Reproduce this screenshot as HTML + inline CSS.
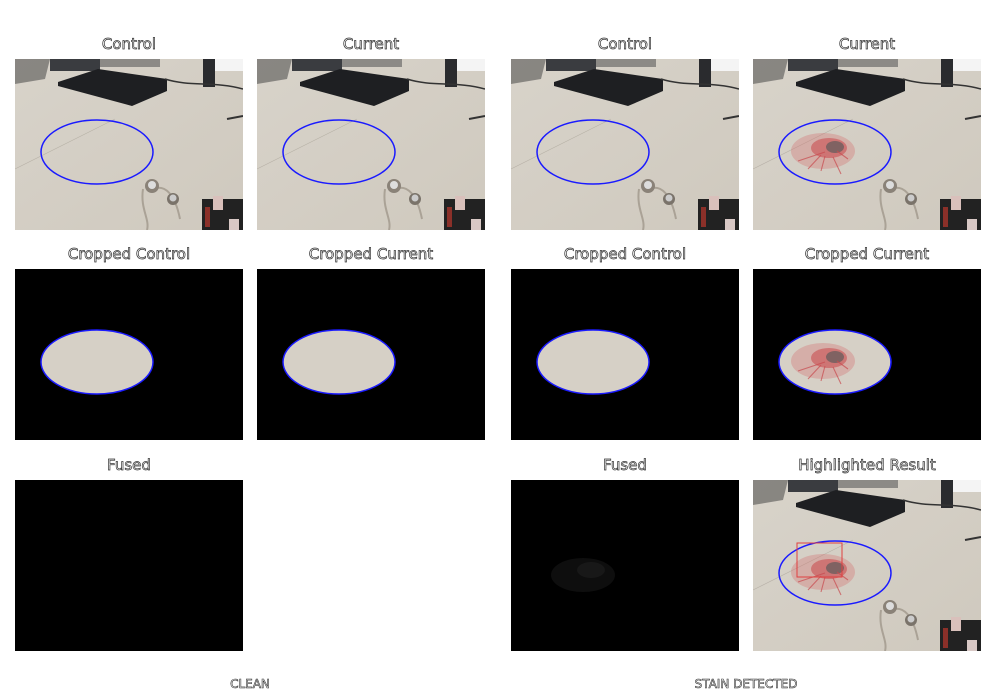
<!DOCTYPE html>
<html><head><meta charset="utf-8">
<style>
body{margin:0;width:996px;height:700px;background:#fff;position:relative;overflow:hidden;font-family:"DejaVu Sans","Liberation Sans",sans-serif}
.t{position:absolute;font-size:15px;color:#fff;text-align:center;width:260px;-webkit-text-stroke:0.7px #333;line-height:18px}
.p{position:absolute;width:228px;height:171px}
.b{position:absolute;font-size:12px;color:#fff;-webkit-text-stroke:0.6px #333;text-align:center;width:300px}
</style></head><body>
<svg width="0" height="0" style="position:absolute">
<defs>
<linearGradient id="desk" x1="0" y1="0" x2="1" y2="1"><stop offset="0" stop-color="#d8d3ca"/><stop offset="1" stop-color="#cfc9be"/></linearGradient>
<g id="scene">
<rect width="228" height="171" fill="url(#desk)"/>
<polygon points="0,0 35,0 30,20 0,25" fill="#3a3a3a" opacity="0.5"/>
<rect x="35" y="0" width="50" height="12" fill="#3a3c40"/>
<rect x="85" y="0" width="60" height="8" fill="#8c8a86"/>
<polygon points="43,23 83,10 152,20 152,32 117,47 43,27" fill="#1e1f22"/>
<rect x="188" y="0" width="12" height="28" fill="#2a2b2e"/>
<rect x="200" y="0" width="28" height="12" fill="#f4f4f4"/>
<path d="M150,20 C175,28 200,22 228,30" stroke="#333" stroke-width="1.5" fill="none"/>
<path d="M212,60 L228,57" stroke="#333" stroke-width="2"/>
<path d="M0,110 L100,60" stroke="#b8b2a8" stroke-width="0.6"/>
<path d="M128,130 C125,150 135,160 132,171 M138,130 C150,125 160,135 165,160" stroke="#aaa296" stroke-width="2" fill="none"/>
<circle cx="137" cy="127" r="7" fill="#8a8278"/><circle cx="137" cy="126" r="4" fill="#ddd"/>
<circle cx="158" cy="140" r="6" fill="#7a736a"/><circle cx="158" cy="139" r="3.5" fill="#ccc"/>
<rect x="187" y="140" width="41" height="31" fill="#222"/>
<rect x="198" y="137" width="10" height="14" fill="#d9c0bb"/><rect x="214" y="160" width="10" height="11" fill="#d8c8c5"/>
<rect x="190" y="148" width="5" height="20" fill="#b8362c" opacity="0.7"/>
</g>
<g id="stain">
<ellipse cx="70" cy="92" rx="32" ry="18" fill="#d57070" opacity="0.35"/>
<ellipse cx="76" cy="89" rx="18" ry="10" fill="#c94f52" opacity="0.6"/>
<ellipse cx="82" cy="88" rx="9" ry="6" fill="#6d5e5e" opacity="0.8"/>
<path d="M45,102 L72,93 M55,110 L68,96 M68,112 L72,97 M88,115 L80,98 M95,100 L84,92" stroke="#c84a4e" stroke-width="1.1" opacity="0.7"/>
</g>
</defs>
</svg>

<div class="t" style="left:-1px;top:35px">Control</div>
<div class="t" style="left:241px;top:35px">Current</div>
<div class="t" style="left:495px;top:35px">Control</div>
<div class="t" style="left:737px;top:35px">Current</div>
<div class="t" style="left:-1px;top:245px">Cropped Control</div>
<div class="t" style="left:241px;top:245px">Cropped Current</div>
<div class="t" style="left:495px;top:245px">Cropped Control</div>
<div class="t" style="left:737px;top:245px">Cropped Current</div>
<div class="t" style="left:-1px;top:456px">Fused</div>
<div class="t" style="left:495px;top:456px">Fused</div>
<div class="t" style="left:737px;top:456px">Highlighted Result</div>

<svg class="p" style="left:15px;top:59px"><use href="#scene"/><ellipse cx="82" cy="93" rx="56" ry="32" fill="none" stroke="#1a1aff" stroke-width="1.5"/></svg>
<svg class="p" style="left:257px;top:59px"><use href="#scene"/><ellipse cx="82" cy="93" rx="56" ry="32" fill="none" stroke="#1a1aff" stroke-width="1.5"/></svg>
<svg class="p" style="left:511px;top:59px"><use href="#scene"/><ellipse cx="82" cy="93" rx="56" ry="32" fill="none" stroke="#1a1aff" stroke-width="1.5"/></svg>
<svg class="p" style="left:753px;top:59px"><use href="#scene"/><use href="#stain"/><ellipse cx="82" cy="93" rx="56" ry="32" fill="none" stroke="#1a1aff" stroke-width="1.5"/></svg>

<svg class="p" style="left:15px;top:269px"><rect width="228" height="171" fill="#000"/><ellipse cx="82" cy="93" rx="56" ry="32" fill="#d6d0c6" stroke="#1a1aff" stroke-width="1.5"/></svg>
<svg class="p" style="left:257px;top:269px"><rect width="228" height="171" fill="#000"/><ellipse cx="82" cy="93" rx="56" ry="32" fill="#d6d0c6" stroke="#1a1aff" stroke-width="1.5"/></svg>
<svg class="p" style="left:511px;top:269px"><rect width="228" height="171" fill="#000"/><ellipse cx="82" cy="93" rx="56" ry="32" fill="#d6d0c6" stroke="#1a1aff" stroke-width="1.5"/></svg>
<svg class="p" style="left:753px;top:269px"><rect width="228" height="171" fill="#000"/><ellipse cx="82" cy="93" rx="56" ry="32" fill="#d6d0c6"/><use href="#stain"/><ellipse cx="82" cy="93" rx="56" ry="32" fill="none" stroke="#1a1aff" stroke-width="1.5"/></svg>

<svg class="p" style="left:15px;top:480px"><rect width="228" height="171" fill="#000"/></svg>
<svg class="p" style="left:511px;top:480px"><rect width="228" height="171" fill="#000"/><ellipse cx="72" cy="95" rx="32" ry="17" fill="#0e0e0e"/><ellipse cx="80" cy="90" rx="14" ry="8" fill="#181818"/></svg>
<svg class="p" style="left:753px;top:480px"><use href="#scene"/><use href="#stain"/><ellipse cx="82" cy="93" rx="56" ry="32" fill="none" stroke="#1a1aff" stroke-width="1.5"/><rect x="44" y="63" width="45" height="34" fill="none" stroke="#e04040" stroke-width="1"/></svg>

<div class="b" style="left:100px;top:677px">CLEAN</div>
<div class="b" style="left:596px;top:677px">STAIN DETECTED</div>
</body></html>
